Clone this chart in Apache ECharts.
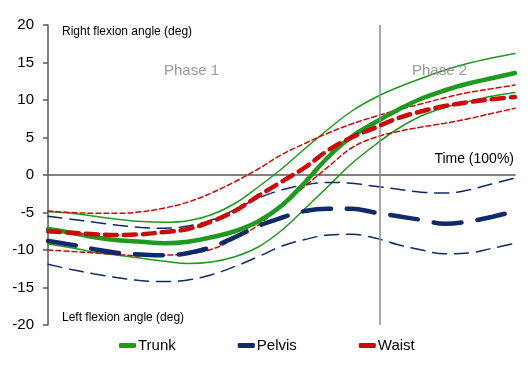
<!DOCTYPE html>
<html>
<head>
<meta charset="utf-8">
<script src="https://cdn.jsdelivr.net/npm/echarts@6/dist/echarts.min.js"></script>
<style>html,body{margin:0;padding:0;background:#fff;}#c{width:530px;height:366px;}</style>
</head>
<body>
<div id="c"></div>
<script>
const timePct = [0,5,10,15,20,25,30,35,40,45,50,55,60,65,70,75,80,85,90,95,100];
const trunkMean  = [-7.2,-7.7,-8.3,-8.7,-8.9,-9.1,-8.9,-8.3,-7.5,-6.2,-4.1,-1.0,2.4,5.1,7.0,8.7,10.2,11.3,12.2,12.9,13.6];
const trunkUpper = [-4.9,-5.1,-5.5,-5.9,-6.2,-6.3,-6.1,-5.3,-3.8,-1.6,0.8,3.5,6.1,8.5,10.3,11.7,12.9,14.0,14.9,15.6,16.2];
const trunkLower = [-9.2,-9.7,-10.3,-10.7,-11.1,-11.5,-11.8,-11.6,-10.9,-9.6,-7.4,-4.5,-1.5,1.5,4.0,6.2,7.9,9.0,9.8,10.5,11.0];
const waistMean  = [-7.5,-7.7,-7.9,-8.0,-7.9,-7.6,-7.2,-6.2,-4.8,-2.8,-0.9,1.0,3.3,5.0,6.3,7.6,8.5,9.2,9.7,10.1,10.4];
const waistUpper = [-4.8,-5.0,-5.1,-5.1,-4.9,-4.4,-3.6,-2.4,-0.9,0.8,2.7,4.2,5.6,6.8,7.8,8.7,9.5,10.3,11.0,11.5,12.0];
const waistLower = [-10.0,-10.2,-10.4,-10.6,-10.8,-10.7,-10.5,-9.9,-8.5,-6.7,-4.0,-1.5,1.1,3.6,5.0,5.8,6.4,6.9,7.5,8.2,8.9];
const pelvisMean  = [-8.8,-9.3,-9.9,-10.4,-10.6,-10.7,-10.4,-9.6,-8.3,-6.8,-5.7,-4.8,-4.5,-4.5,-5.0,-5.5,-6.0,-6.5,-6.2,-5.6,-4.8];
const pelvisUpper = [-5.5,-5.9,-6.3,-6.7,-7.0,-7.1,-6.8,-6.0,-4.6,-3.1,-2.0,-1.3,-1.0,-1.1,-1.5,-1.9,-2.3,-2.4,-2.0,-1.2,-0.4];
const pelvisLower = [-11.9,-12.6,-13.2,-13.7,-14.1,-14.2,-14.0,-13.3,-12.2,-10.9,-9.5,-8.6,-8.0,-7.9,-8.4,-9.3,-10.0,-10.5,-10.4,-9.8,-9.1];
const yTicks = [-20,-15,-10,-5,0,5,10,15,20];
const phaseBoundary = 71.1;

const GREEN = '#1E9B1E', NAVY = '#0F2A6B', RED = '#CC0A0A';
const FONT = 'Liberation Sans, Arial, sans-serif';
const pts = arr => arr.map((v, i) => [timePct[i], v]);

function line(name, arr, color, width, dash, z) {
  return {
    name: name, type: 'line', data: pts(arr), smooth: 0.4, showSymbol: false, symbol: 'none',
    lineStyle: { color: color, width: width, type: dash, cap: 'round' },
    itemStyle: { color: color }, z: z, silent: true
  };
}

const series = [
  line('Trunk upper', trunkUpper, GREEN, 1.5, 'solid', 2),
  line('Trunk lower', trunkLower, GREEN, 1.5, 'solid', 2),
  line('Pelvis upper', pelvisUpper, NAVY, 1.5, [14, 8], 2),
  line('Pelvis lower', pelvisLower, NAVY, 1.5, [14, 8], 2),
  line('Waist upper', waistUpper, RED, 1.5, [5, 3], 3),
  line('Waist lower', waistLower, RED, 1.5, [5, 3], 3),
  line('Pelvis', pelvisMean, NAVY, 4.5, [28, 16], 4),
  line('Trunk', trunkMean, GREEN, 4.5, 'solid', 4),
  line('Waist', waistMean, RED, 4.5, [12, 7], 5)
];
series[0].markLine = {
  silent: true, symbol: 'none', label: { show: false },
  lineStyle: { color: '#8C8C8C', width: 1.5, type: 'solid' },
  data: [{ xAxis: phaseBoundary }]
};

const chart = echarts.init(document.getElementById('c'), null, { renderer: 'canvas' });
chart.setOption({
  animation: false,
  backgroundColor: '#fff',
  grid: { left: 48, right: 15, top: 25, bottom: 41 },
  xAxis: {
    type: 'value', min: 0, max: 100,
    axisLine: { onZero: true, lineStyle: { color: '#595959', width: 1.5 } },
    axisTick: { show: false }, axisLabel: { show: false }, splitLine: { show: false }
  },
  yAxis: {
    type: 'value', min: yTicks[0], max: yTicks[yTicks.length - 1], interval: 5,
    axisLine: { show: true, onZero: false, lineStyle: { color: '#595959', width: 1.5 } },
    axisTick: { show: true, inside: false, length: 5, lineStyle: { color: '#595959', width: 1.5 } },
    axisLabel: { color: '#000', fontSize: 15, fontFamily: FONT, margin: 14 },
    splitLine: { show: false }
  },
  legend: {
    data: ['Trunk', 'Pelvis', 'Waist'],
    left: 114, top: 333, itemGap: 62, itemWidth: 17, itemHeight: 5,
    icon: 'roundRect',
    textStyle: { color: '#000', fontSize: 15, fontFamily: FONT, padding: [0, 0, 0, -3] },
    itemStyle: { borderWidth: 0 }
  },
  graphic: [
    { type: 'text', left: 62, top: 26, style: { text: 'Right flexion angle (deg)', fill: '#000', font: '12px ' + FONT } },
    { type: 'text', left: 62, top: 312, style: { text: 'Left flexion angle (deg)', fill: '#000', font: '12px ' + FONT } },
    { type: 'text', left: 164, top: 63, style: { text: 'Phase 1', fill: '#999', font: '15px ' + FONT } },
    { type: 'text', left: 412, top: 63, z: 10, style: { text: 'Phase 2', fill: '#999', font: '15px ' + FONT } },
    { type: 'text', right: 16, top: 152, style: { text: 'Time (100%)', fill: '#000', font: '14px ' + FONT } }
  ],
  series: series
});
</script>
</body>
</html>
